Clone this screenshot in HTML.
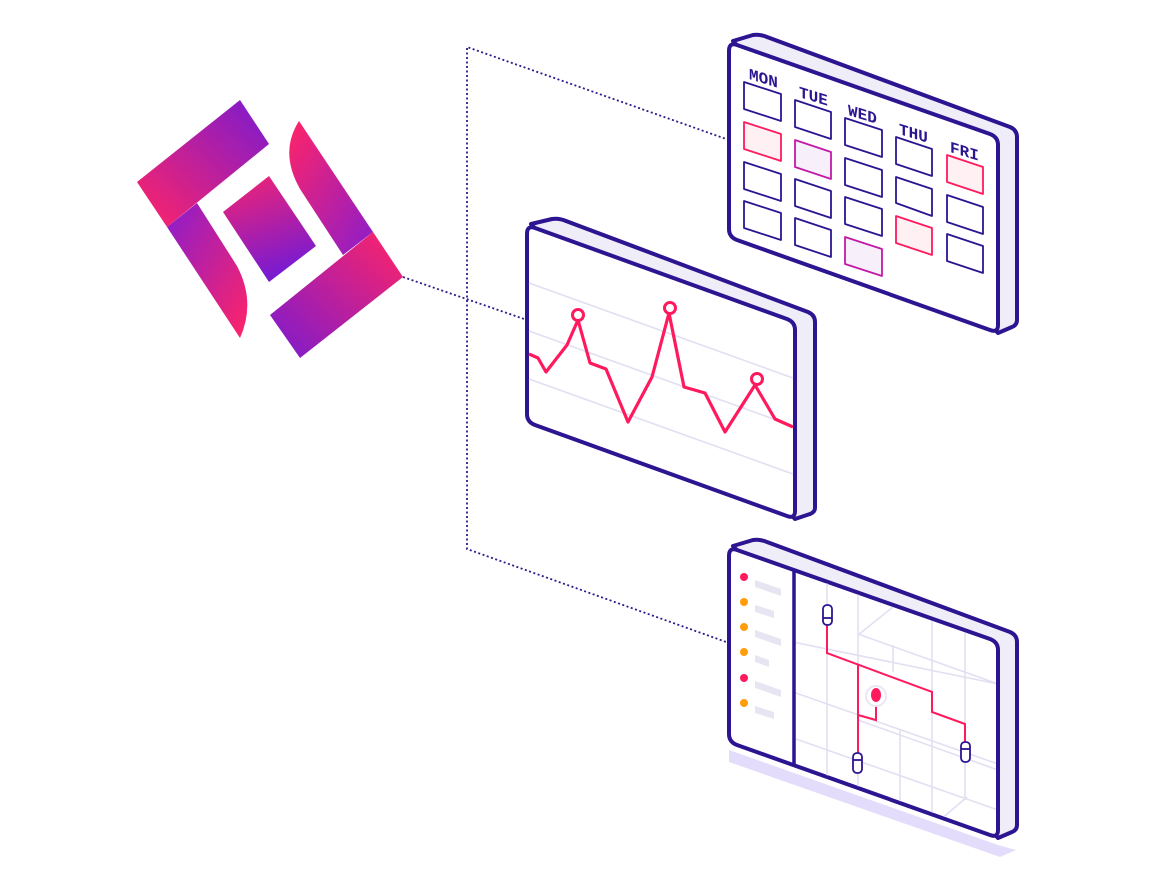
<!DOCTYPE html>
<html><head><meta charset="utf-8"><style>html,body{margin:0;padding:0;background:#fff}svg{display:block}</style></head>
<body>
<svg width="1176" height="881" viewBox="0 0 1176 881" xmlns="http://www.w3.org/2000/svg">
<defs>
<linearGradient id="gA" x1="0" y1="1" x2="1" y2="0"><stop offset="0" stop-color="#ff2467"/><stop offset="1" stop-color="#7a1bd0"/></linearGradient>
<linearGradient id="gB" x1="0" y1="0" x2="1" y2="1"><stop offset="0" stop-color="#8a1dcc"/><stop offset="1" stop-color="#ff2467"/></linearGradient>
<linearGradient id="gC" x1="1" y1="0" x2="0" y2="1"><stop offset="0" stop-color="#ff2467"/><stop offset="1" stop-color="#7a1bd0"/></linearGradient>
<linearGradient id="gD" x1="0" y1="0" x2="0.3" y2="1"><stop offset="0" stop-color="#f52470"/><stop offset="1" stop-color="#7a1bd0"/></linearGradient>
<linearGradient id="gE" x1="0" y1="0" x2="1" y2="1"><stop offset="0" stop-color="#ff2467"/><stop offset="1" stop-color="#8a1dcc"/></linearGradient>
<clipPath id="mapclip"><polygon points="795,572 996,644 996,835 795,764"/></clipPath>
</defs>

<!-- logo -->
<polygon points="137,182 240,100 269,144 167,227" fill="url(#gA)"/>
<path d="M167,227 L197,203 L237,266 Q256,302 240,338 Z" fill="url(#gB)"/>
<path d="M299,121 Q279,152 300,189 L343,255 L373,232 Z" fill="url(#gE)"/>
<polygon points="270,315 373,232 403,277 300,358" fill="url(#gC)"/>
<polygon points="223,212 269,176 316,246 269,282" fill="url(#gD)"/>

<!-- dotted connectors -->
<g stroke="#2e1a8a" stroke-width="1.8" stroke-dasharray="2,2.5" fill="none">
<polyline points="729,140 467,47 467,549 729,643"/>
<line x1="403" y1="277" x2="527" y2="320"/>
</g>

<!-- calendar panel -->
<g stroke="#2d1491" stroke-width="4" stroke-linejoin="round">
<path d="M733,41 L753,35 Q760,34 767,37 L1010,127 Q1017,130 1017,137 L1017,320 Q1017,325 1012,327 L998,333 Z" fill="#efedf8"/>
<path d="M737,45 L990,134 Q998,137 998,145 L998,325 Q998,333 990,330 L737,240 Q729,237 729,229 L729,51 Q729,42 737,45 Z" fill="#fff"/>
</g>
<g stroke-width="1.8" stroke-linejoin="round">
<polygon points="744,82 781,94 781,121 744,109" fill="#fff" stroke="#2d1491"/>
<polygon points="744,122 781,134 781,161 744,149" fill="#fff0f4" stroke="#ff1a5e"/>
<polygon points="744,162 781,174 781,201 744,189" fill="#fff" stroke="#2d1491"/>
<polygon points="744,201 781,213 781,240 744,228" fill="#fff" stroke="#2d1491"/>
<polygon points="795,100 831,112 831,139 795,127" fill="#fff" stroke="#2d1491"/>
<polygon points="795,140 831,152 831,179 795,167" fill="#f7f0fb" stroke="#c21aa8"/>
<polygon points="795,179 831,191 831,218 795,206" fill="#fff" stroke="#2d1491"/>
<polygon points="795,218 831,230 831,257 795,245" fill="#fff" stroke="#2d1491"/>
<polygon points="845,118 882,130 882,157 845,145" fill="#fff" stroke="#2d1491"/>
<polygon points="845,158 882,170 882,197 845,185" fill="#fff" stroke="#2d1491"/>
<polygon points="845,197 882,209 882,236 845,224" fill="#fff" stroke="#2d1491"/>
<polygon points="845,237 882,249 882,276 845,264" fill="#f7f0fb" stroke="#c21aa8"/>
<polygon points="896,137 932,149 932,176 896,164" fill="#fff" stroke="#2d1491"/>
<polygon points="896,177 932,189 932,216 896,203" fill="#fff" stroke="#2d1491"/>
<polygon points="896,216 932,228 932,255 896,243" fill="#fff0f4" stroke="#ff1a5e"/>
<polygon points="947,155 983,167 983,194 947,182" fill="#fff0f4" stroke="#ff1a5e"/>
<polygon points="947,195 983,207 983,234 947,222" fill="#fff" stroke="#2d1491"/>
<polygon points="947,234 983,246 983,273 947,261" fill="#fff" stroke="#2d1491"/>
</g>
<g font-family="Liberation Mono, monospace" font-weight="bold" font-size="16" fill="#2d1491">
<text transform="translate(749,79) skewY(17)">MON</text>
<text transform="translate(799,97) skewY(17)">TUE</text>
<text transform="translate(848,115) skewY(17)">WED</text>
<text transform="translate(899,134) skewY(17)">THU</text>
<text transform="translate(950,152) skewY(17)">FRI</text>
</g>

<!-- chart panel -->
<g stroke="#2d1491" stroke-width="4" stroke-linejoin="round">
<path d="M531,224 L552,219 Q559,218 566,221 L808,312 Q815,315 815,322 L815,508 Q815,512 810,514 L795,519 Z" fill="#efedf8"/>
<path d="M535,228 L787,319 Q795,322 795,330 L795,511 Q795,519 787,516 L535,425 Q527,422 527,414 L527,234 Q527,225 535,228 Z" fill="#fff"/>
</g>
<g stroke="#e3dff2" stroke-width="1.6">
<line x1="529" y1="283" x2="793" y2="378"/>
<line x1="529" y1="331" x2="793" y2="426"/>
<line x1="529" y1="379" x2="793" y2="474"/>
</g>
<polyline points="529,354 538,358 546,372 567,345 578,320 590,363 606,369 628,422 652,377 669,313 684,387 705,393 725,432 755,385 775,419 793,427" fill="none" stroke="#ff1a5e" stroke-width="3.2" stroke-linejoin="round"/>
<g fill="#fff" stroke="#ff1a5e" stroke-width="3">
<circle cx="578" cy="315" r="5.5"/><circle cx="670" cy="308" r="5.5"/><circle cx="757" cy="379" r="5.5"/>
</g>

<!-- map panel -->
<polygon points="729,750 998,845 1016,850 1000,857 729,762" fill="#e4dcfb"/>
<g stroke="#2d1491" stroke-width="4" stroke-linejoin="round">
<path d="M733,546 L753,540 Q760,539 767,542 L1010,632 Q1017,635 1017,642 L1017,825 Q1017,830 1012,832 L998,838 Z" fill="#efedf8"/>
<path d="M737,550 L990,639 Q998,642 998,650 L998,830 Q998,838 990,835 L737,745 Q729,742 729,734 L729,556 Q729,547 737,550 Z" fill="#fff"/>
</g>
<g clip-path="url(#mapclip)" stroke="#e3dff2" stroke-width="1.6" fill="none">
<line x1="793" y1="642" x2="998" y2="684"/>
<line x1="793" y1="692" x2="998" y2="764"/>
<line x1="793" y1="738" x2="998" y2="810"/>
<line x1="827" y1="570" x2="827" y2="780"/>
<polyline points="858,590 858,635 893,607"/>
<line x1="858" y1="635" x2="858" y2="790"/>
<line x1="893" y1="645" x2="893" y2="672"/>
<line x1="900" y1="730" x2="900" y2="810"/>
<line x1="932" y1="618" x2="932" y2="825"/>
<line x1="965" y1="630" x2="965" y2="800"/>
<line x1="858" y1="634" x2="998" y2="684"/>
<line x1="858" y1="720" x2="998" y2="770"/>
<polyline points="967,797 940,820"/>
</g>
<line x1="794" y1="570" x2="794" y2="765" stroke="#2d1491" stroke-width="3.5"/>
<g>
<circle cx="744" cy="577" r="4" fill="#ff1a5e"/><circle cx="744" cy="602" r="4" fill="#ff9d0a"/>
<circle cx="744" cy="627" r="4" fill="#ff9d0a"/><circle cx="744" cy="652" r="4" fill="#ff9d0a"/>
<circle cx="744" cy="678" r="4" fill="#ff1a5e"/><circle cx="744" cy="703" r="4" fill="#ff9d0a"/>
</g>
<g fill="#e8e5f2">
<polygon points="755,580 781,589 781,596 755,587"/>
<polygon points="755,605 774,611 774,618 755,612"/>
<polygon points="755,630 781,639 781,646 755,637"/>
<polygon points="755,655 769,660 769,667 755,662"/>
<polygon points="755,681 781,690 781,697 755,688"/>
<polygon points="755,706 774,712 774,719 755,713"/>
</g>
<g fill="none" stroke="#ff1a5e" stroke-width="2">
<polyline points="827,625 827,653 932,692 932,712 965,724 965,742"/>
<polyline points="858,665 858,755"/>
<polyline points="858,715 876,720 876,700"/>
</g>
<circle cx="876" cy="696" r="10" fill="#fff" stroke="#ebe6f6" stroke-width="2"/>
<ellipse cx="876" cy="695" rx="5" ry="7" fill="#ff1a5e"/>
<g fill="#fff" stroke="#2d1491" stroke-width="1.8">
<rect x="823" y="605" width="9" height="20" rx="4"/><line x1="823" y1="618" x2="832" y2="618"/>
<rect x="853" y="753" width="9" height="20" rx="4"/><line x1="853" y1="760" x2="862" y2="760"/>
<rect x="961" y="742" width="9" height="20" rx="4"/><line x1="961" y1="749" x2="970" y2="749"/>
</g>
</svg>
</body></html>
